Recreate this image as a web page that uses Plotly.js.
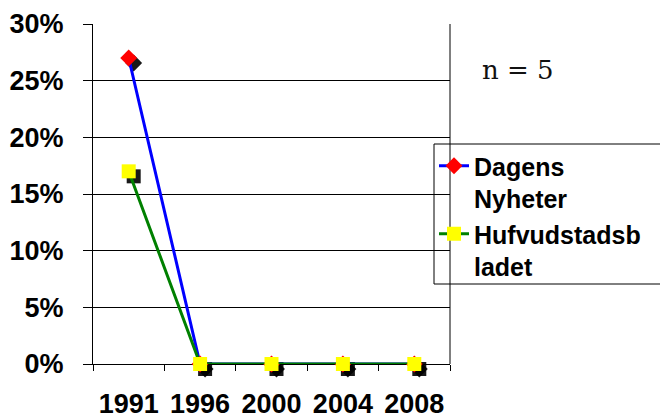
<!DOCTYPE html>
<html>
<head>
<meta charset="utf-8">
<script src="https://cdn.plot.ly/plotly-3.0.1.min.js"></script>
<style>html,body{margin:0;padding:0;background:#fff;}#chart{width:660px;height:420px;}</style>
</head>
<body>
<div id="chart"></div>
<script>
const years = ['1991', '1996', '2000', '2004', '2008'];
const dagensNyheter = [0.27, 0, 0, 0, 0];
const hufvudstadsbladet = [0.17, 0, 0, 0, 0];
const seriesNames = ['Dagens<br>Nyheter', 'Hufvudstadsb<br>ladet'];
const noteText = 'n = 5';

const W = 660, H = 420;
const sh = 5; // shadow offset in px
// main plot area (px): left 93, right 450, top 24, bottom 364
const area = {l: 93, r: 450, t: 24, b: 364};
const M = {l: area.l, r: W - area.r - sh, t: area.t, b: H - area.b - sh};
const paperW = W - M.l - M.r, paperH = H - M.t - M.b;
const px = v => (v - M.l) / paperW;
const py = v => (H - M.b - v) / paperH;
const xr = [-0.5, years.length - 0.5];
const yr = [0, 0.30];
const mainX = [0, px(area.r)], mainY = [py(area.b), 1];
const shadowX = [px(area.l + sh), 1], shadowY = [0, py(area.t + sh)];

const font = {family: 'Liberation Sans, Arial, sans-serif', color: '#000'};

const traces = [
  {x: years, y: dagensNyheter, xaxis: 'x', yaxis: 'y', mode: 'lines', opacity: 0, showlegend: false, hoverinfo: 'skip'},
  // shadows
  {x: years, y: dagensNyheter, xaxis: 'x2', yaxis: 'y2', mode: 'markers', showlegend: false, hoverinfo: 'skip', cliponaxis: false,
   marker: {symbol: 'diamond', size: 13, color: 'rgba(0,0,0,0.9)'}},
  {x: years, y: hufvudstadsbladet, xaxis: 'x2', yaxis: 'y2', mode: 'markers', showlegend: false, hoverinfo: 'skip', cliponaxis: false,
   marker: {symbol: 'square', size: 14, color: 'rgba(0,0,0,0.9)'}},
  // main series
  {x: years, y: dagensNyheter, xaxis: 'x3', yaxis: 'y3', name: seriesNames[0], mode: 'lines+markers', cliponaxis: false,
   line: {color: '#0000FF', width: 3}, marker: {symbol: 'diamond', size: 13, color: '#FF0000'}},
  {x: years, y: hufvudstadsbladet, xaxis: 'x3', yaxis: 'y3', name: seriesNames[1], mode: 'lines+markers', cliponaxis: false,
   line: {color: '#008000', width: 3}, marker: {symbol: 'square', size: 14, color: '#FFFF00'}}
];

const hiddenX = (dom, anchor) => ({type: 'category', categoryorder: 'array', categoryarray: years, range: xr,
  domain: dom, anchor: anchor, visible: false, fixedrange: true});
const hiddenY = (dom, anchor) => ({range: yr, domain: dom, anchor: anchor, visible: false, fixedrange: true});

const layout = {
  width: W, height: H,
  margin: M,
  paper_bgcolor: '#fff', plot_bgcolor: 'rgba(0,0,0,0)',
  showlegend: true,
  xaxis: {
    type: 'category', categoryorder: 'array', categoryarray: years, range: xr,
    domain: mainX, anchor: 'y',
    tickson: 'boundaries', ticks: 'outside', ticklen: 6, tickwidth: 1, tickcolor: '#000',
    showgrid: false, zeroline: false, showline: true, linecolor: '#000', linewidth: 1,
    ticklabelstandoff: 16,
    tickfont: Object.assign({size: 27, weight: 'bold'}, font)
  },
  yaxis: {
    range: yr, dtick: 0.05, tickformat: '.0%',
    domain: mainY, anchor: 'x',
    ticks: 'outside', ticklen: 9, tickcolor: '#000', tickwidth: 1,
    showgrid: true, gridcolor: '#000', gridwidth: 1,
    zeroline: false, showline: true, linecolor: '#000', linewidth: 1,
    ticklabelstandoff: 14,
    tickfont: Object.assign({size: 27, weight: 'bold'}, font)
  },
  xaxis2: hiddenX(shadowX, 'y2'),
  yaxis2: hiddenY(shadowY, 'x2'),
  xaxis3: hiddenX(mainX, 'y3'),
  yaxis3: hiddenY(mainY, 'x3'),
  shapes: [
    {type: 'line', xref: 'paper', yref: 'paper', x0: px(area.r), x1: px(area.r), y0: py(area.b), y1: py(area.t),
     line: {color: '#000', width: 1}, layer: 'above'},
    {type: 'rect', xref: 'paper', yref: 'paper', x0: px(434), x1: px(668), y0: py(144), y1: py(284),
     line: {color: '#000', width: 1}, fillcolor: 'rgba(0,0,0,0)', layer: 'above'}
  ],
  legend: {
    x: px(434), y: py(143), xanchor: 'left', yanchor: 'top',
    borderwidth: 0, bgcolor: 'rgba(255,255,255,0)',
    valign: 'top', tracegroupgap: 10,
    font: Object.assign({size: 25, weight: 'bold'}, font)
  },
  annotations: [
    {text: noteText, xref: 'paper', yref: 'paper', x: px(518), y: py(70),
     showarrow: false, xanchor: 'center', yanchor: 'middle',
     font: {family: 'DejaVu Serif, serif', size: 26, color: '#111'}}
  ]
};

Plotly.newPlot('chart', traces, layout, {displayModeBar: false, staticPlot: true});
</script>
</body>
</html>
